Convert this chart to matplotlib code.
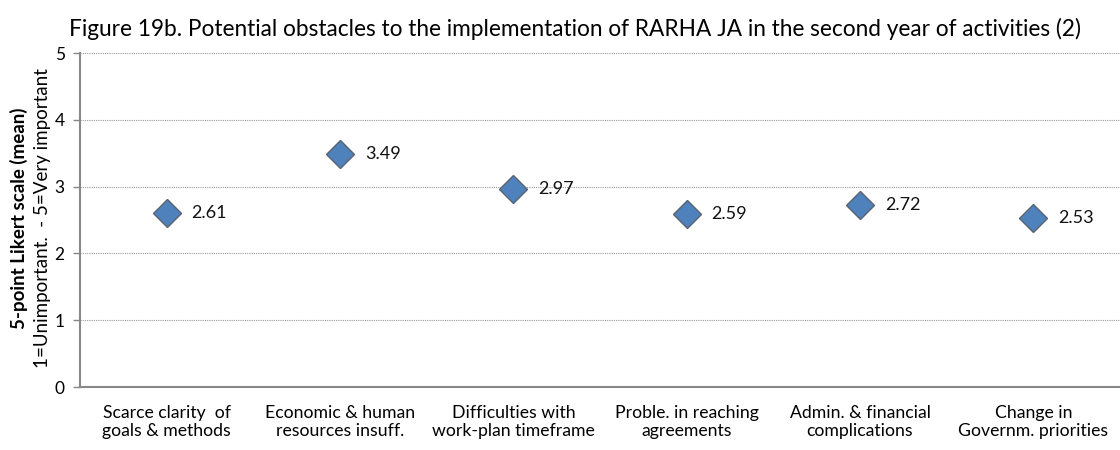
import matplotlib.pyplot as plt

categories = [
    "Scarce clarity  of\ngoals & methods",
    "Economic & human\nresources insuff.",
    "Difficulties with\nwork-plan timeframe",
    "Proble. in reaching\nagreements",
    "Admin. & financial\ncomplications",
    "Change in\nGovernm. priorities",
]
means = [2.61, 3.49, 2.97, 2.59, 2.72, 2.53]
yticks = [0, 1, 2, 3, 4, 5]

plt.rcParams["font.family"] = ["Lato", "DejaVu Sans"]

fig = plt.figure(figsize=(11.2, 4.5), dpi=100)
ax = fig.add_axes([0.0714, 0.14, 0.9286, 0.742])

x = list(range(len(categories)))
ax.plot(x, means, linestyle="none", marker="D", markersize=14,
        markerfacecolor="#4f81bd", markeredgecolor="#5a6470",
        markeredgewidth=1.0, zorder=3)
for xi, v in zip(x, means):
    ax.annotate(f"{v:.2f}", (xi, v), xytext=(18, 0), textcoords="offset points",
                ha="left", va="center", fontsize=13, color="#111111")

ax.set_xlim(-0.5, len(categories) - 0.5)
ax.set_ylim(0, 5)
ax.set_yticks(yticks)
ax.set_xticks(x)
ax.set_xticklabels(categories, fontsize=12.7, linespacing=1.15)
ax.tick_params(axis="x", length=0, pad=13)
ax.tick_params(axis="y", length=5, width=1, color="#888888", labelsize=12.5, pad=6)

ax.grid(axis="y", linestyle=(0, (1, 1)), color="#999999", linewidth=0.8)
ax.set_axisbelow(True)
for side in ("top", "right"):
    ax.spines[side].set_visible(False)
for side in ("left", "bottom"):
    ax.spines[side].set_color("#888888")
    ax.spines[side].set_linewidth(1.5)

fig.text(0.017, 0.515, "5-point Likert scale (mean)", rotation=90, ha="center",
         va="center", fontsize=13.5, fontweight="bold")
fig.text(0.038, 0.515, "1=Unimportant.  - 5=Very important", rotation=90,
         ha="center", va="center", fontsize=13.5)

fig.text(0.513, 0.935, "Figure 19b. Potential obstacles to the implementation of "
         "RARHA JA in the second year of activities (2)", ha="center", va="center",
         fontsize=16.3)

fig.savefig("out.png", dpi=100)
